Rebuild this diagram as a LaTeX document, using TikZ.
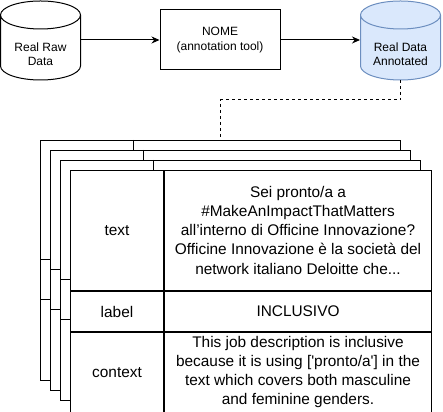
\documentclass[tikz,border=0pt]{standalone}
\usepackage{fontspec}
\setmainfont{Liberation Sans}
\usetikzlibrary{arrows.meta}
\definecolor{dbfill}{HTML}{DAE8FC}
\definecolor{dbline}{HTML}{6C8EBF}

\begin{document}
\begin{tikzpicture}[
		x=1pt, y=1pt,
		line width=1pt,
		small/.style={font=\fontsize{12}{14.4}\selectfont, align=center, inner sep=0pt},
		cell/.style={draw, fill=white, inner sep=0pt, anchor=north west, align=center,
			font=\fontsize{15.4}{19}\selectfont},
		sheet/.style={draw, fill=white, inner sep=0pt, anchor=north west,
			minimum width=360pt, minimum height=240pt},
		flow/.style={-{Stealth[length=8pt,width=7pt]}},
		link/.style={dash pattern=on 3pt off 3pt}
		]
		\useasboundingbox (0,0) rectangle (443,411);
		\draw (0.5,396) -- (0.5,345) arc[start angle=180,end angle=360,x radius=40,y radius=14]
			-- (80.5,396) arc[start angle=0,end angle=180,x radius=40,y radius=14] -- cycle
			(0.5,396) arc[start angle=180,end angle=360,x radius=40,y radius=14];
		\draw[draw=dbline, fill=dbfill] (360.5,396) -- (360.5,345) arc[start angle=180,end angle=360,x radius=40,y radius=14]
			-- (440.5,396) arc[start angle=0,end angle=180,x radius=40,y radius=14] -- cycle
			(360.5,396) arc[start angle=180,end angle=360,x radius=40,y radius=14];
		\node[small, minimum width=80pt] (raw) at (40.5,357) {Real Raw\\Data};
		\node[small, draw, minimum width=120pt, minimum height=60pt] (nome) at (220,371) {NOME\\(annotation tool)};
		\node[small, minimum width=80pt] (annotated) at (400.5,357) {Real Data\\Annotated};
		\coordinate (annotatedbottom) at (400.5,331);
		\draw[flow] (raw.east |- nome) -- (nome);
		\draw[flow] (nome) -- (annotated.west |- nome);
		\foreach \k in {0,1,2}{
			\node[sheet] (sheet\k) at ({40+10*\k},{271-10*\k}) {};
			\draw ([xshift=93pt]sheet\k.north west) -- ([xshift=93pt]sheet\k.south west);
			\draw ([yshift=-120pt]sheet\k.north west) -- ([yshift=-120pt]sheet\k.north east);
			\draw ([yshift=-160pt]sheet\k.north west) -- ([yshift=-160pt]sheet\k.north east);
		}
		\draw[link] (annotatedbottom) -- ++(0,-20) -| (sheet0.north);
		\node[cell, minimum width=93pt, minimum height=120pt] (textkey) at (70,241) {text};
		\node[cell, minimum width=267pt, minimum height=120pt] (textvalue) at (textkey.north east)
			{Sei pronto/a a\\\#MakeAnImpactThatMatters\\all’interno di Officine Innovazione?\\Officine Innovazione è la società del\\network italiano Deloitte che...};
		\node[cell, minimum width=93pt, minimum height=40pt] (labelkey) at (textkey.south west) {label};
		\node[cell, minimum width=267pt, minimum height=40pt] (labelvalue) at (labelkey.north east) {INCLUSIVO};
		\node[cell, minimum width=93pt, minimum height=80pt] (contextkey) at (labelkey.south west) {context};
		\node[cell, minimum width=267pt, minimum height=80pt] (contextvalue) at (contextkey.north east)
			{This job description is inclusive\\because it is using [\textquotesingle pronto/a\textquotesingle] in the\\text which covers both masculine\\and feminine genders.};
	\end{tikzpicture}
\end{document}
